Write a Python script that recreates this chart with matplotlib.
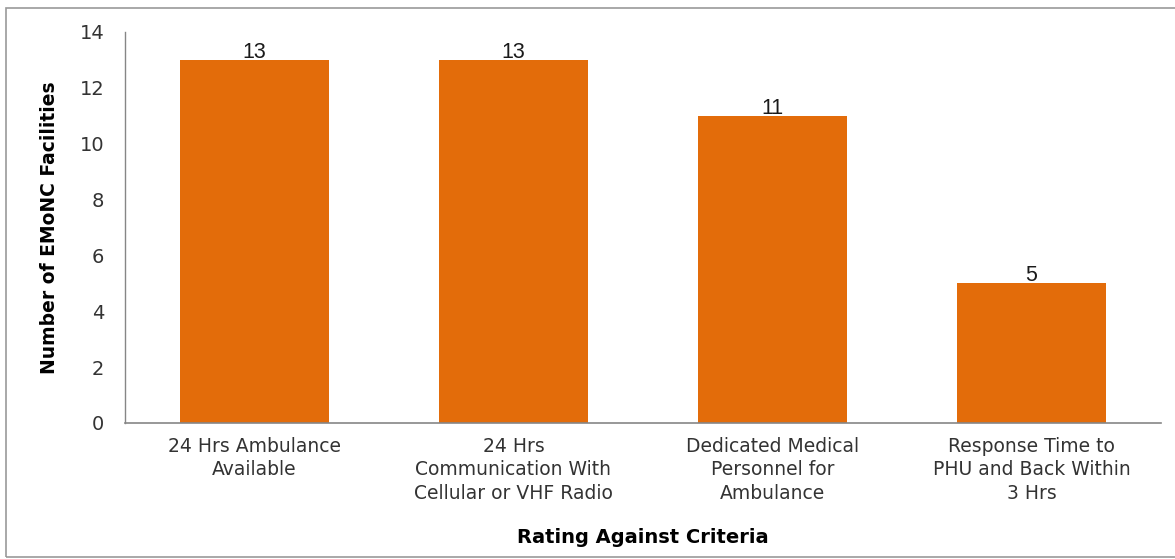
import matplotlib.pyplot as plt
from matplotlib.patches import Rectangle

plt.rcParams['font.family'] = ['DejaVu Sans']

categories = ["24 Hrs Ambulance\nAvailable",
              "24 Hrs\nCommunication With\nCellular or VHF Radio",
              "Dedicated Medical\nPersonnel for\nAmbulance",
              "Response Time to\nPHU and Back Within\n3 Hrs"]
counts = [13, 13, 11, 5]
yticks = [0, 2, 4, 6, 8, 10, 12, 14]

bar_color = "#E36C0A"
grey = "#868686"

fig = plt.figure(figsize=(11.75, 5.59), dpi=100)
ax = fig.add_axes([0.1064, 0.2433, 0.8816, 0.6995])

x = range(len(categories))
bars = ax.bar(x, counts, width=0.574, color=bar_color)

for b, v in zip(bars, counts):
    ax.text(b.get_x() + b.get_width() / 2, v - 0.1, str(v), ha="center", va="bottom",
            fontsize=15.5, family="Liberation Sans", color="#1a1a1a")

ax.set_xlim(-0.5, len(categories) - 0.5)
ax.set_ylim(0, 14)
ax.set_yticks(yticks)
ax.set_xticks(list(x))
ax.set_xticklabels(categories, fontsize=13.5, color="#333333", linespacing=1.3)
ax.tick_params(axis="y", length=0, pad=15, labelsize=14, labelcolor="#333333")
ax.tick_params(axis="x", length=0, pad=10)

for s in ["top", "right"]:
    ax.spines[s].set_visible(False)
ax.spines["left"].set_color(grey)
ax.spines["bottom"].set_color(grey)
ax.spines["left"].set_linewidth(1.0)
ax.spines["bottom"].set_linewidth(1.2)

ax.set_ylabel("Number of EMoNC Facilities", fontsize=13.5, fontweight="bold", labelpad=15)
ax.set_xlabel("Rating Against Criteria", fontsize=14, fontweight="bold", labelpad=18)

# outer frame around the chart area
fig.patches.append(Rectangle((0.005, 0.004), 1.2, 0.9817, transform=fig.transFigure,
                             fill=False, edgecolor="#999999", linewidth=1.2))

fig.savefig("out.png", dpi=100)
